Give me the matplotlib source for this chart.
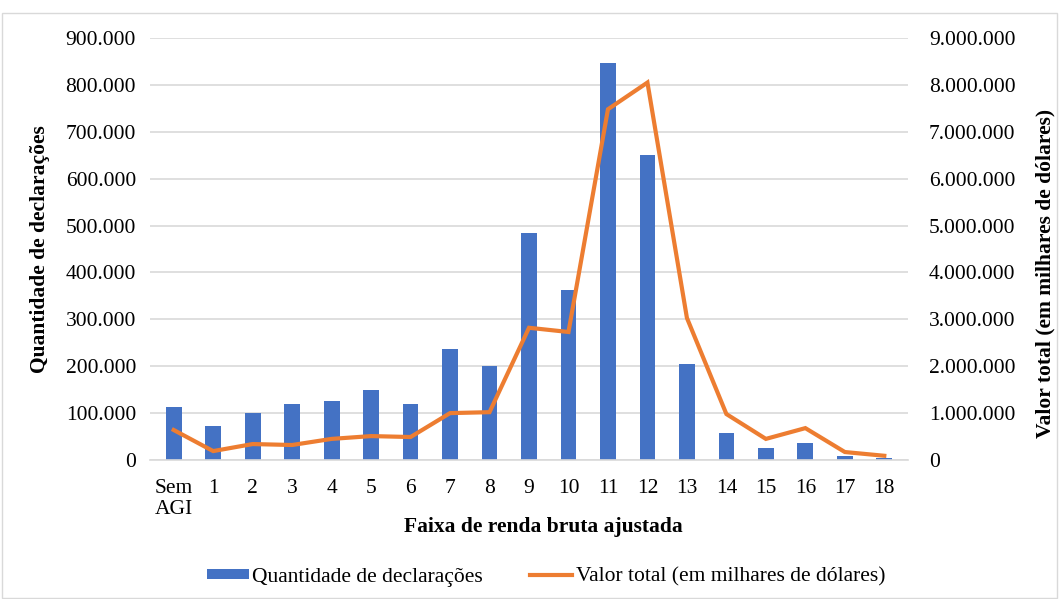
#!/usr/bin/env python3
"""Quantidade de declarações e valor total por faixa de renda bruta ajustada."""

import matplotlib
matplotlib.use("Agg")
import matplotlib.pyplot as plt
from matplotlib.patches import Rectangle
from matplotlib.ticker import FuncFormatter, MultipleLocator

categories = ["Sem\nAGI"] + [str(i) for i in range(1, 19)]
declaracoes = [112000, 72000, 101000, 119000, 126000, 149000, 119000, 237000, 200000,
               484000, 363000, 846000, 650000, 205000, 57000, 26000, 36000, 9000, 4000]
valor_total = [640000, 190000, 340000, 320000, 450000, 510000, 490000, 1000000, 1020000,
               2820000, 2730000, 7480000, 8050000, 3030000, 980000, 450000, 680000, 170000, 90000]

BLUE = "#4472c4"
ORANGE = "#ed7d31"
GRID = "#d9d9d9"
FS = 15.5

plt.rcParams["font.family"] = ["Liberation Serif", "DejaVu Serif"]


def br_thousands(v, _pos=None):
    return f"{int(round(v)):,}".replace(",", ".")


fig = plt.figure(figsize=(10.59, 5.99), dpi=100)
# plot area in pixels: x 150..908, y 38..460
ax = fig.add_axes([150 / 1059, 1 - 460 / 599, 758 / 1059, 422 / 599])
ax2 = ax.twinx()

x = list(range(len(categories)))
ax.bar(x, declaracoes, width=0.4, color=BLUE, zorder=2, label="Quantidade de declarações")
ax2.plot(x, valor_total, color=ORANGE, linewidth=3, solid_joinstyle="miter",
         zorder=3, label="Valor total (em milhares de dólares)")

ax.set_xlim(-0.6, len(categories) - 0.4)
ax.set_ylim(0, 900000)
ax2.set_ylim(0, 9000000)
ax.yaxis.set_major_locator(MultipleLocator(100000))
ax2.yaxis.set_major_locator(MultipleLocator(1000000))
ax.yaxis.set_major_formatter(FuncFormatter(br_thousands))
ax2.yaxis.set_major_formatter(FuncFormatter(br_thousands))

ax.set_xticks(x)
ax.set_xticklabels(categories, fontsize=FS, multialignment="left", linespacing=1.1)
ax.grid(axis="y", color=GRID, linewidth=1.2, zorder=0)
ax.set_axisbelow(True)

for a in (ax, ax2):
    for s in a.spines.values():
        s.set_visible(False)
    a.tick_params(length=0, labelsize=FS, colors="#000000")
ax.spines["bottom"].set_visible(True)
ax.spines["bottom"].set_color(GRID)
ax.spines["bottom"].set_linewidth(1.2)
ax.tick_params(axis="y", pad=10)
ax2.tick_params(axis="y", pad=15)
ax.tick_params(axis="x", pad=14)

ax.set_xlabel("Faixa de renda bruta ajustada", fontsize=FS, fontweight="bold")
ax.xaxis.set_label_coords((543 - 150) / 758, (460 - 527) / 422)
ax.xaxis.label.set_va("center")
ax.set_ylabel("Quantidade de declarações", fontsize=FS, fontweight="bold")
ax.yaxis.set_label_coords((40 - 150) / 758, 0.5)
ax.yaxis.label.set_va("center")
ax2.set_ylabel("Valor total (em milhares de dólares)", fontsize=FS, fontweight="bold")
ax2.yaxis.set_label_coords((1045 - 150) / 758, (460 - 273) / 422)
ax2.yaxis.label.set_va("center")

h1, l1 = ax.get_legend_handles_labels()
h2, l2 = ax2.get_legend_handles_labels()
fig.legend(h1 + h2, l1 + l2, loc="center", bbox_to_anchor=(546 / 1059, 1 - 577 / 599), ncol=2,
           frameon=False, fontsize=FS, handlelength=1.95, handletextpad=0.15,
           columnspacing=2.2, handleheight=0.35)

fig.patches.append(Rectangle((0.002, 0.002), 0.996, 0.976, transform=fig.transFigure,
                             fill=False, edgecolor=GRID, linewidth=1))

fig.savefig("out.png", dpi=100)
plt.close(fig)
